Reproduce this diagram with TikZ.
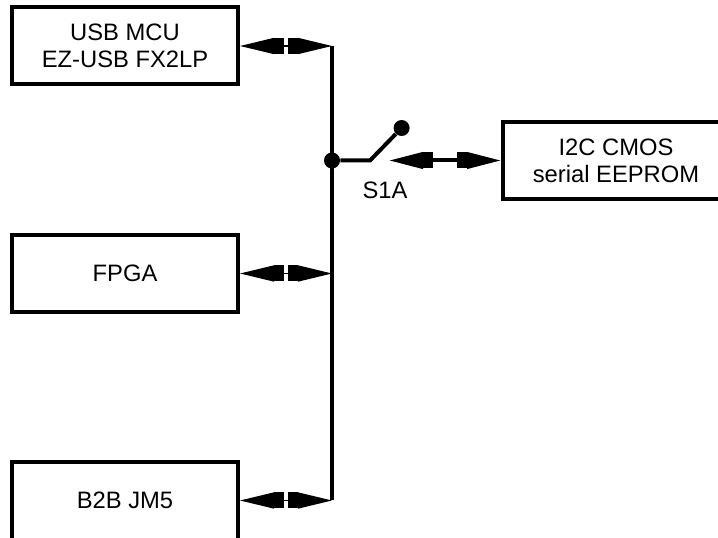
\documentclass[tikz,border=0pt]{standalone}
\usepackage{fontspec}
\setmainfont{Liberation Sans}
\usetikzlibrary{arrows.meta}

\begin{document}
\begin{tikzpicture}[
  block/.style={rectangle, draw=black, line width=0.1cm, font=\fontsize{16.9}{19.2}\selectfont,
                minimum width=5.65cm, minimum height=1.925cm, align=center},
  link/.style={{Triangle[length=0.85cm, width=0.4cm] Rectangle[length=0.25cm, width=0.4cm]}-{Rectangle[length=0.25cm, width=0.4cm] Triangle[length=0.85cm, width=0.4cm]}, line width=#1},
  wire/.style={line width=0.1cm},
  pad/.style={circle, fill=black, inner sep=0pt, minimum size=0.4cm},
  lbl/.style={font=\fontsize{16.9}{19.2}\selectfont, inner sep=2pt}
]
\useasboundingbox (0,0) rectangle (17.95,13.45);
\clip (0,0) rectangle (17.95,13.45);

% Blocks
\node[block] (mcu)    at (3.125,12.3)   {USB MCU\\EZ-USB FX2LP};
\node[block] (fpga)   at (3.125,6.6125) {FPGA};
\node[block, minimum height=2.1cm] (jm) at (3.125,0.85) {\raisebox{0.175cm}{B2B JM5}};
\node[block] (eeprom) at (15.4,9.4375)  {I2C CMOS\\serial EEPROM};

% Bus points
\coordinate (busmcu)  at (8.3,12.3);
\coordinate (busfpga) at (8.3,6.6125);
\coordinate (busjm)   at (8.3,0.9375);

% Switch
\node[pad] (common)  at (8.3,9.4375) {};
\node[pad] (contact) at (10.04,10.25) {};
\coordinate (hinge)  at (9.25,9.4375);
\coordinate (blade)  at (9.725,9.4375);
\node[lbl] (s1a) at (9.625,8.7) {S1A};

% Wires
\draw[wire] (busmcu) -- (busjm);
\draw[wire] (common) -- (hinge) -- (contact);

% Links
\draw[link=1pt] (mcu.east)  -- (busmcu);
\draw[link=1pt] (fpga.east) -- (busfpga);
\draw[link=1pt] (jm.east |- busjm) -- (busjm);
\draw[link=0.1cm] (blade)   -- (eeprom.west);

\end{tikzpicture}
\end{document}
